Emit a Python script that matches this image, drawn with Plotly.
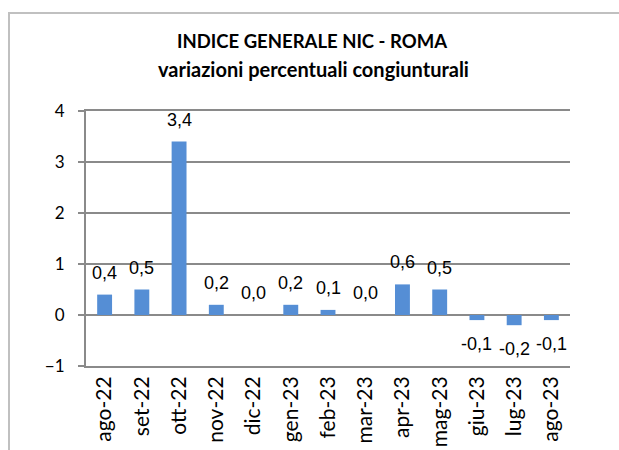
import plotly.graph_objects as go

categories = ["ago-22", "set-22", "ott-22", "nov-22", "dic-22", "gen-23", "feb-23",
              "mar-23", "apr-23", "mag-23", "giu-23", "lug-23", "ago-23"]
values = [0.4, 0.5, 3.4, 0.2, 0.0, 0.2, 0.1, 0.0, 0.6, 0.5, -0.1, -0.2, -0.1]
y_ticks = [-1, 0, 1, 2, 3, 4]
title_line1 = "INDICE GENERALE NIC - ROMA"
title_line2 = "variazioni percentuali congiunturali"

BAR = "#558ED5"
GRID = "#8a8a8a"
FRAME = "#c0c0c0"
W, H = 619, 450
ML, MR, MT, MB = 86, 49, 111, 84

fig = go.Figure()
fig.add_trace(go.Bar(x=categories, y=values, marker=dict(color=BAR, line=dict(width=0)),
                     hoverinfo="skip"))

def fmt(v):
    return f"{v:.1f}".replace(".", ",")

for c, v in zip(categories, values):
    fig.add_annotation(x=c, y=v, xref="x", yref="y", text=fmt(v), showarrow=False,
                       yanchor="middle", yshift=22 if v >= 0 else -24,
                       font=dict(family="Liberation Sans, Arial", size=18, color="black"))

plot_h = H - MT - MB
plot_w = W - ML - MR

fig.update_layout(
    width=W, height=H,
    margin=dict(l=ML, r=MR, t=MT, b=MB, autoexpand=False),
    paper_bgcolor="white", plot_bgcolor="white",
    showlegend=False,
    bargap=0.6,
    title=dict(text="<b>" + title_line1 + "</b>", x=312 / W, xanchor="center",
               xref="container", yref="container", y=1 - 42 / H, yanchor="middle",
               font=dict(family="Lato", size=18.5, color="black")),
    xaxis=dict(type="category", showgrid=False, zeroline=False,
               showline=True, mirror=True, linecolor=GRID, linewidth=2,
               ticks="", tickangle=-90, automargin=False,
               tickfont=dict(family="Lato", size=21, color="black"),
               range=[-0.5, len(categories) - 0.5]),
    xaxis2=dict(overlaying="x", anchor="free", position=(0 - y_ticks[0]) / (y_ticks[-1] - y_ticks[0]),
                side="bottom", range=[-0.5, len(categories) - 0.5], automargin=False,
                tickmode="array", tickvals=[i - 0.5 for i in range(len(categories) + 1)],
                ticks="outside", ticklen=6, tickwidth=2, tickcolor=GRID,
                showticklabels=False, showgrid=False, showline=False, zeroline=False),
    yaxis=dict(range=[y_ticks[0], y_ticks[-1]], tickmode="array", tickvals=y_ticks,
               automargin=False,
               showgrid=True, gridcolor=GRID, gridwidth=2,
               zeroline=True, zerolinecolor=GRID, zerolinewidth=2,
               showline=True, linecolor=GRID, linewidth=2,
               ticks="outside", ticklen=6, tickwidth=2, tickcolor=GRID,
               ticklabelstandoff=10,
               tickfont=dict(family="Lato", size=17, color="black")),
)

fig.add_annotation(text="<b>" + title_line2 + "</b>", xref="paper", yref="paper",
                   x=(313 - ML) / plot_w, y=(H - MB - 69) / plot_h,
                   xanchor="center", yanchor="middle", showarrow=False,
                   font=dict(family="Lato", size=20, color="black"))

fig.add_shape(type="rect", xref="paper", yref="paper",
              x0=(9 - ML) / plot_w, x1=(W + 20 - ML) / plot_w,
              y0=(H - MB - 13) / plot_h, y1=-(MB + 20) / plot_h,
              line=dict(color=FRAME, width=2), fillcolor="rgba(0,0,0,0)", layer="below")

fig.write_html("out.html", config={"displayModeBar": False},
               post_script="document.body.style.margin='0px';")
